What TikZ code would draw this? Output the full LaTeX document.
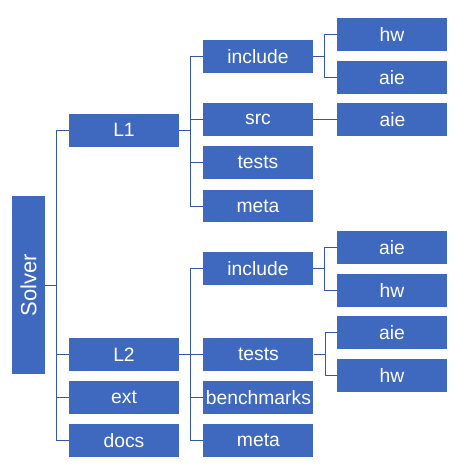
\documentclass[tikz,border=0pt]{standalone}
\usepackage{fontspec}
\setmainfont{Liberation Sans}
\usetikzlibrary{positioning}
\definecolor{boxblue}{RGB}{63,105,190}
\definecolor{lineblue}{RGB}{52,88,166}

\begin{document}
\begin{tikzpicture}[
    x=1pt, y=1pt,
    every node/.style={font=\fontsize{19.3}{22}\selectfont},
    box/.style={
        rectangle,
        fill=boxblue,
        text=white,
        inner sep=0pt,
        minimum width=110pt,
        minimum height=32.7pt
    },
    rootbox/.style={
        box,
        minimum width=33pt,
        minimum height=178pt,
        font=\fontsize{22}{26}\selectfont
    },
    link/.style={
        draw=lineblue,
        line width=0.9pt
    }
]
\useasboundingbox (0,0) rectangle (456,-469);

% Root
\node[rootbox] (solver) at (28.5,-285) {\rotatebox{90}{Solver}};

% First level
\node[box] (l1) at (124,-130.3) {L1};
\node[box] (l2) at (124,-354.3) {L2};
\node[box, below=10pt of l2] (ext) {ext};
\node[box, below=10pt of ext] (docs) {docs};

% Second level under L1
\node[box] (incA) at (258,-56.3) {include};
\node[box] (srcA) at (258,-119.3) {src};
\node[box, below=10.3pt of srcA] (testsA) {tests};
\node[box, below=10.3pt of testsA] (metaA) {meta};

% Second level under L2
\node[box] (incB) at (258,-268.3) {include};
\node[box, right=24pt of l2] (testsB) {tests};
\node[box, below=10pt of testsB] (benchB) {benchmarks};
\node[box, below=10pt of benchB] (metaB) {meta};

% Third level
\node[box] (hwA) at (392,-34.3) {hw};
\node[box, below=10.3pt of hwA] (aieA) {aie};
\node[box, right=24pt of srcA] (aieS) {aie};
\node[box] (aieB) at (392,-247.3) {aie};
\node[box, below=10.3pt of aieB] (hwB) {hw};
\node[box] (aieT) at (392,-332.3) {aie};
\node[box, below=10.3pt of aieT] (hwT) {hw};

% Connectors
\foreach \p/\c in {solver/l1, solver/l2, solver/ext, solver/docs,
                   l1/incA, l1/srcA, l1/testsA, l1/metaA,
                   l2/incB, l2/testsB, l2/benchB, l2/metaB,
                   incA/hwA, incA/aieA, srcA/aieS,
                   incB/aieB, incB/hwB, testsB/aieT, testsB/hwT}
    \draw[link] (\p.east) -- ++(11.7,0) |- (\c.west);

\end{tikzpicture}
\end{document}
